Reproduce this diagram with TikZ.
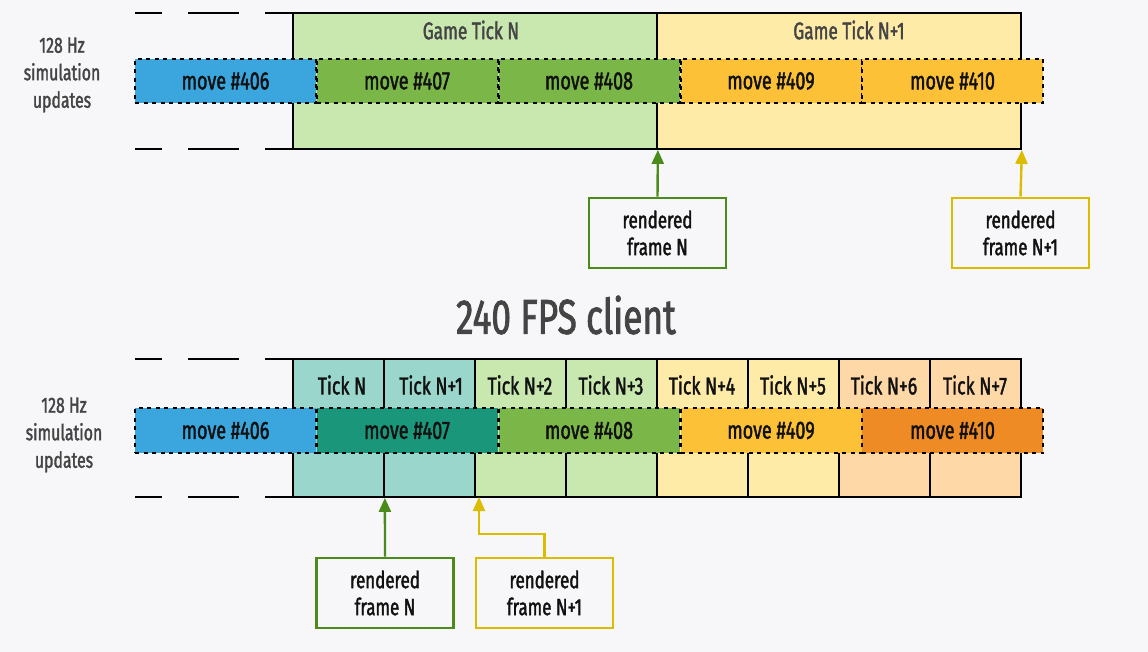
\documentclass[tikz,border=0pt]{standalone}
\usepackage{fontspec}
\setmainfont[FakeStretch=0.72, FakeBold=1.6]{Fira Sans}
\usetikzlibrary{arrows.meta}
\definecolor{bg}{HTML}{F7F7F9}
\definecolor{lgreen}{HTML}{C8E8B0}
\definecolor{lyellow}{HTML}{FFEBA8}
\definecolor{lteal}{HTML}{9AD6CB}
\definecolor{lpeach}{HTML}{FFD8A8}
\definecolor{mblue}{HTML}{3AA6DD}
\definecolor{mgreen}{HTML}{7AB648}
\definecolor{mteal}{HTML}{1A967A}
\definecolor{myellow}{HTML}{FCC136}
\definecolor{morange}{HTML}{EF8B24}
\definecolor{bgreen}{HTML}{4B8B1B}
\definecolor{byellow}{HTML}{DCBC00}
\definecolor{txtgray}{HTML}{444444}
\definecolor{txtdark}{HTML}{111111}
\begin{document}
\begin{tikzpicture}[x=1pt,y=-1pt,
  tickbox/.style={draw=black, line width=1.8pt, inner sep=0pt, minimum width=364pt, minimum height=136pt},
  cellbox/.style={draw=black, line width=1.8pt, inner sep=0pt, minimum width=91pt, minimum height=138pt},
  movebox/.style={draw=black, line width=2pt, dash pattern=on 4pt off 4.5pt, inner sep=0pt,
    minimum width=181pt, minimum height=44pt, text=txtdark, font=\fontsize{25}{28}\selectfont},
  ticklbl/.style={text=txtdark, font=\fontsize{24.5}{28}\selectfont, inner sep=0pt},
  gamelbl/.style={text=txtgray, font=\fontsize{24}{28}\selectfont, inner sep=0pt},
  sidelbl/.style={text=txtgray, align=center, font=\fontsize{22}{27.5}\selectfont, inner sep=0pt},
  dashseg/.style={draw=black, line width=1.8pt},
  framebox/.style={draw=#1, line width=2.6pt, fill=bg, inner sep=0pt, minimum width=137pt, minimum height=70pt,
    align=center, text=txtdark, font=\fontsize{23.5}{27}\selectfont},
  conn/.style={draw=#1, line width=2.4pt, -{Triangle[length=14pt,width=12pt]}}
]
\fill[bg] (0,0) rectangle (1148,652);
\useasboundingbox (0,0) rectangle (1148,652);

% ---------- top diagram ----------
\foreach \y in {13,149}{
  \draw[dashseg] (135,\y) -- (162,\y);
  \draw[dashseg] (188,\y) -- (239,\y);
  \draw[dashseg] (265,\y) -- (293,\y);
}
\node[tickbox, fill=lgreen] (gtN) at (475,81) {};
\node[tickbox, fill=lyellow] (gtN1) at (839,81) {};
\node[gamelbl] (lgtN) at (471,30) {Game Tick N};
\node[gamelbl] (lgtN1) at (849,30) {Game Tick N+1};

\node[movebox, fill=mblue] (t406) at (225.5,81) {move \#406};
\node[movebox, fill=mgreen] (t407) at (407,81) {move \#407};
\node[movebox, fill=mgreen] (t408) at (589,81) {move \#408};
\node[movebox, fill=myellow] (t409) at (771,81) {move \#409};
\node[movebox, fill=myellow] (t410) at (952.5,81) {move \#410};

\node[sidelbl] (side1) at (62,75) {128 Hz\\simulation\\updates};

\node[framebox=bgreen] (tfN) at (657.5,233) {rendered\\frame N};
\node[framebox=byellow] (tfN1) at (1020.5,233) {rendered\\frame N+1};
\draw[conn=bgreen] (tfN.north) -- (gtN.south east);
\draw[conn=byellow] (tfN1.north) -- (gtN1.south east);

% ---------- title ----------
\node[text=txtgray, font=\fontsize{49}{52}\selectfont, inner sep=0pt] (title) at (566,315) {240 FPS client};

% ---------- bottom diagram ----------
\foreach \y in {359,497}{
  \draw[dashseg] (135,\y) -- (162,\y);
  \draw[dashseg] (188,\y) -- (239,\y);
  \draw[dashseg] (265,\y) -- (293,\y);
}
\node[cellbox, fill=lteal]   (c0) at (338.5,428) {};
\node[cellbox, fill=lteal]   (c1) at (429.5,428) {};
\node[cellbox, fill=lgreen]  (c2) at (520.5,428) {};
\node[cellbox, fill=lgreen]  (c3) at (611.5,428) {};
\node[cellbox, fill=lyellow] (c4) at (702.5,428) {};
\node[cellbox, fill=lyellow] (c5) at (793.5,428) {};
\node[cellbox, fill=lpeach]  (c6) at (884.5,428) {};
\node[cellbox, fill=lpeach]  (c7) at (975.5,428) {};
\node[ticklbl] (k0) at (342,385) {Tick N};
\node[ticklbl] (k1) at (431,385) {Tick N+1};
\node[ticklbl] (k2) at (520,385) {Tick N+2};
\node[ticklbl] (k3) at (611,385) {Tick N+3};
\node[ticklbl] (k4) at (702,385) {Tick N+4};
\node[ticklbl] (k5) at (793,385) {Tick N+5};
\node[ticklbl] (k6) at (884,385) {Tick N+6};
\node[ticklbl] (k7) at (975,385) {Tick N+7};

\node[movebox, fill=mblue, minimum height=45pt]   (b406) at (225.5,430.5) {move \#406};
\node[movebox, fill=mteal, minimum height=45pt]   (b407) at (407,430.5) {move \#407};
\node[movebox, fill=mgreen, minimum height=45pt]  (b408) at (589,430.5) {move \#408};
\node[movebox, fill=myellow, minimum height=45pt] (b409) at (771,430.5) {move \#409};
\node[movebox, fill=morange, minimum height=45pt] (b410) at (952.5,430.5) {move \#410};

\node[sidelbl] (side2) at (64,435) {128 Hz\\simulation\\updates};

\node[framebox=bgreen] (bfN) at (385,593) {rendered\\frame N};
\node[framebox=byellow] (bfN1) at (544.5,593) {rendered\\frame N+1};
\coordinate (ytip) at (479,497);
\draw[conn=bgreen] (bfN.north) -- (c0.south east);
\draw[conn=byellow] (bfN1.north) -- ++(0,-23) -| (ytip);
\end{tikzpicture}
\end{document}
